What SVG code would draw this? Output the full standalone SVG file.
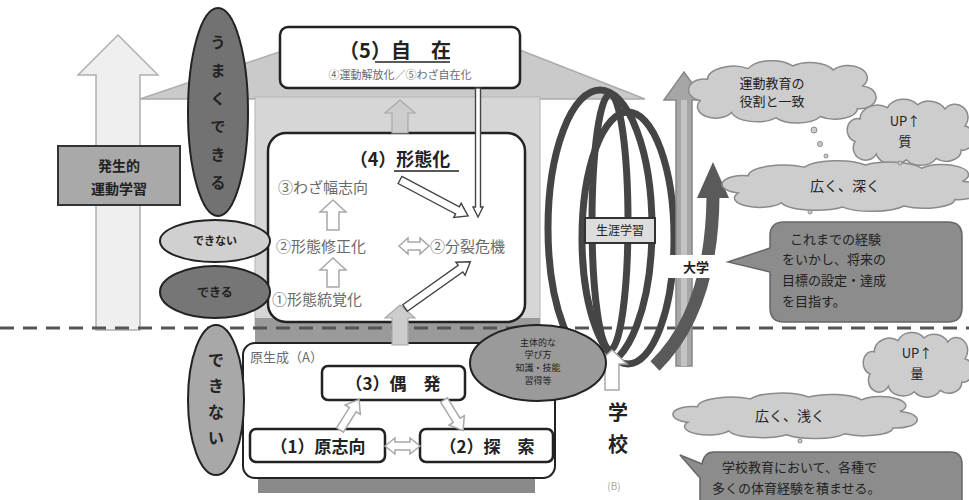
<svg xmlns="http://www.w3.org/2000/svg" xmlns:xlink="http://www.w3.org/1999/xlink" width="969" height="500" viewBox="0 0 969 500">
<style>
text{font-family:"Noto Sans CJK JP","Noto Sans",sans-serif;fill:#222}
.b{font-weight:700}
.c{text-anchor:middle}
.g{fill:#6a6a6a}
.box{fill:#fff;stroke:#222;stroke-width:2.5}
.lt{fill:#fff;stroke:#a8a8a8;stroke-width:1.5}
.lg{fill:#cdcdcd;stroke:#a8a8a8;stroke-width:1.2}
.ha{fill:#fff;stroke:#444;stroke-width:1.4}
.ring{fill:none;stroke:#454545;stroke-width:7}
.cl{fill:#cdcdcd;stroke:#8a8a8a;stroke-width:1.5}
.dk{fill:#8c8c8c;stroke:#666;stroke-width:1.5}
</style>
<defs>
<path id="cloud" class="cl" vector-effect="non-scaling-stroke" d="M 6,28 a8,8 0 0 1 4,-16 a14,10 0 0 1 22,-8 a14,10 0 0 1 24,-2 a14,10 0 0 1 22,3 a10,9 0 0 1 16,12 a8,8 0 0 1 -3,17 a12,8 0 0 1 -20,6 a14,9 0 0 1 -24,1 a14,9 0 0 1 -24,-4 a9,8 0 0 1 -17,-9 z"/>
</defs>
<rect width="969" height="500" fill="#fff"/>

<!-- background house and arrows -->
<g id="left-arrow">
<polygon points="118,35 158,75 140,75 140,330 96,330 96,75 78,75" fill="#efefef" stroke="#b0b0b0" stroke-width="1.5"/>
</g>
<g id="house">
<polygon points="140,99 285,50 520,50 645,99" fill="#cacaca" stroke="#acacac" stroke-width="1.5"/>
<rect x="255" y="97" width="285" height="232" fill="#d6d6d6" stroke="#b4b4b4" stroke-width="1"/>
<rect x="255" y="318" width="285" height="24" fill="#9a9a9a"/>
</g>

<g id="dashed-line">
<line x1="0" y1="328" x2="969" y2="328" stroke="#555" stroke-width="3" stroke-dasharray="14 9"/>
</g>

<g id="bottom-base">
<rect x="258" y="476" width="277" height="17" fill="#8a8a8a"/>
</g>

<g id="node-basic">
<rect x="58" y="146" width="122" height="59" fill="#a9a9a9" stroke="#333" stroke-width="2"/>
<text class="b c" x="119" y="171" font-size="14">発生的</text>
<text class="b c" x="119" y="194" font-size="14">運動学習</text>
</g>

<g id="node-5">
<rect class="box" x="280" y="27" width="240" height="61" rx="8"/>
<text class="b c" x="395" y="58" font-size="20">（5）自　在</text>
<line x1="375" y1="62" x2="450" y2="62" stroke="#222" stroke-width="1.5"/>
<text class="c g" x="400" y="79" font-size="11">④運動解放化／⑤わざ自在化</text>
</g>

<g id="node-4">
<rect class="box" x="268" y="133" width="257" height="189" rx="18" stroke-width="3"/>
<text class="b c" x="400" y="166" font-size="18">（4）形態化</text>
<line x1="394" y1="171" x2="459" y2="171" stroke="#222" stroke-width="1.5"/>
<text class="g" x="278" y="193" font-size="15">③わざ幅志向</text>
<text class="g" x="276" y="252" font-size="15">②形態修正化</text>
<text class="g" x="430" y="252" font-size="15">②分裂危機</text>
<text class="g" x="272" y="305" font-size="15">①形態統覚化</text>
</g>

<g id="node-A">
<rect x="243" y="343" width="312" height="135" rx="12" fill="#fff" stroke="#222" stroke-width="2"/>
<text class="g" x="250" y="362" font-size="13">原生成（A）</text>
</g>
<g id="node-3">
<rect class="box" x="322" y="366" width="143" height="34" rx="6"/>
<text class="b c" x="393" y="390" font-size="17">（3）偶　発</text>
</g>
<g id="node-1">
<rect class="box" x="250" y="429" width="135" height="33" rx="6"/>
<text class="b c" x="318" y="453" font-size="17">（1）原志向</text>
</g>
<g id="node-2">
<rect class="box" x="420" y="429" width="133" height="33" rx="6"/>
<text class="b c" x="487" y="453" font-size="17">（2）探　索</text>
</g>

<g id="rings">
<ellipse class="ring" cx="600" cy="228" rx="52" ry="138"/>
<ellipse class="ring" cx="610" cy="222" rx="18" ry="128" stroke-width="6"/>
<ellipse class="ring" cx="628" cy="238" rx="46" ry="126" stroke-width="6"/>
</g>

<g id="connectors">
<!-- gray block arrows -->
<polygon class="lg" points="400,100 415,113 408,113 408,133 392,133 392,113 385,113"/>
<polygon class="lg" points="400,305 415,318 408,318 408,345 392,345 392,318 385,318"/>
<!-- inner up arrows -->
<polygon class="lt" points="333,200 346,212 339,212 339,230 327,230 327,212 320,212"/>
<polygon class="lt" points="333,258 346,270 339,270 339,287 327,287 327,270 320,270"/>
<!-- horizontal double arrows -->
<polygon class="lt" points="399,246 408,238 408,242 420,242 420,238 429,246 420,254 420,250 408,250 408,254"/>
<polygon class="lt" points="385,446 395,438 395,442 410,442 410,438 420,446 410,454 410,450 395,450 395,454"/>
<!-- diagonal light arrows bottom -->
<polygon class="lt" transform="translate(340,430) rotate(-58)" points="0,-4 24,-4 24,-9 36,0 24,9 24,4 0,4"/>
<polygon class="lt" transform="translate(444,400) rotate(58)" points="0,-4 24,-4 24,-9 36,0 24,9 24,4 0,4"/>
<!-- hollow dark arrows in (4) -->
<polygon class="ha" transform="translate(400,180) rotate(27.9)" points="0,-4 65,-4 65,-8 77,0 65,8 65,4 0,4"/>
<polygon class="ha" transform="translate(405,308) rotate(-35.3)" points="0,-4 68,-4 68,-8 80,0 68,8 68,4 0,4"/>
<polygon class="ha" transform="translate(478,88) rotate(90)" points="0,-2.5 119,-2.5 119,-5 129,0 119,5 119,2.5 0,2.5"/>
<!-- school arrow -->
<polygon class="lt" points="612,350 627,364 619,364 619,390 605,390 605,364 597,364"/>
<!-- university straight arrow -->
<polygon points="684,72 704,100 692,100 692,366 676,366 676,100 664,100" fill="#a6a6a6" stroke="#888" stroke-width="1.5"/>
<rect x="681" y="100" width="6" height="266" fill="#c4c4c4"/>
<!-- curved dark arrow -->
<path d="M 655,366 Q 712,310 713,196" fill="none" stroke="#5a5a5a" stroke-width="13"/>
<polygon points="713,162 729,198 697,198" fill="#5a5a5a"/>
</g>

<g id="node-lifelong">
<rect x="585" y="218" width="70" height="25" fill="#ddd" stroke="#333" stroke-width="2"/>
<text class="c" x="620" y="235" font-size="12">生涯学習</text>
</g>
<g id="node-univ">
<rect x="668" y="255" width="56" height="23" fill="#fff"/>
<text class="b c" x="696" y="272" font-size="13">大学</text>
</g>

<g id="node-oval">
<ellipse cx="538" cy="363" rx="68" ry="38" fill="#9a9a9a" stroke="#222" stroke-width="2"/>
<text class="c" x="538" y="346" font-size="9">主体的な</text>
<text class="c" x="538" y="358" font-size="9">学び方</text>
<text class="c" x="538" y="371" font-size="9">知識・技能</text>
<text class="c" x="538" y="384" font-size="9">習得等</text>
</g>

<g id="node-school">
<text class="b c" x="618" y="420" font-size="20">学</text>
<text class="b c" x="618" y="452" font-size="20">校</text>
<text class="c" x="614" y="490" font-size="10" fill="#aaa" style="fill:#aaa">(B)</text>
</g>

<g id="node-umaku">
<ellipse cx="218" cy="112" rx="30" ry="104" fill="#727272" stroke="#222" stroke-width="2"/>
<text class="b c" x="218" font-size="15"><tspan x="218" y="48">う</tspan><tspan x="218" y="76">ま</tspan><tspan x="218" y="104">く</tspan><tspan x="218" y="132">で</tspan><tspan x="218" y="160">き</tspan><tspan x="218" y="188">る</tspan></text>
</g>
<g id="node-dekinai1">
<ellipse cx="215" cy="241" rx="55" ry="21" fill="#d0d0d0" stroke="#222" stroke-width="2"/>
<text class="b c" x="215" y="245" font-size="11">できない</text>
</g>
<g id="node-dekiru">
<ellipse cx="215" cy="292" rx="55" ry="26" fill="#767676" stroke="#222" stroke-width="2"/>
<text class="b c" x="215" y="297" font-size="12">できる</text>
</g>
<g id="node-dekinai2">
<ellipse cx="216" cy="400" rx="28" ry="75" fill="#a8a8a8" stroke="#222" stroke-width="2"/>
<text class="b c" font-size="16"><tspan x="216" y="366">で</tspan><tspan x="216" y="392">き</tspan><tspan x="216" y="418">な</tspan><tspan x="216" y="444">い</tspan></text>
</g>

<g id="node-cloud1">
<use xlink:href="#cloud" transform="translate(689,63.3) scale(1.85,1.33)"/>
<text class="c" x="772" y="88" font-size="13">運動教育の</text>
<text class="c" x="772" y="106" font-size="13">役割と一致</text>
</g>
<g id="node-cloud2">
<use xlink:href="#cloud" transform="translate(847.5,102) scale(1.25,1.41)"/>
<text class="c" x="905" y="126" font-size="13">UP↑</text>
<text class="c" x="905" y="146" font-size="13">質</text>
</g>
<g id="node-cloud3">
<use xlink:href="#cloud" transform="translate(722.7,162.8) scale(2.55,1.08)"/>
<text class="c" x="845" y="191" font-size="14">広く、深く</text>
</g>
<g id="bubbles">
<circle cx="814" cy="130" r="3" fill="#cdcdcd" stroke="#8a8a8a"/>
<circle cx="820" cy="144" r="2.5" fill="#cdcdcd" stroke="#8a8a8a"/>
<circle cx="826" cy="156" r="2" fill="#cdcdcd" stroke="#8a8a8a"/>
<circle cx="810" cy="212" r="2" fill="#cdcdcd" stroke="#8a8a8a"/>
<circle cx="900" cy="163" r="2" fill="#cdcdcd" stroke="#8a8a8a"/>
<circle cx="903" cy="393" r="2" fill="#cdcdcd" stroke="#8a8a8a"/>
<circle cx="800" cy="441" r="2" fill="#cdcdcd" stroke="#8a8a8a"/>
</g>
<g id="node-callout1">
<path class="dk" d="M 784,222 H 948 Q 962,222 962,236 V 308 Q 962,322 948,322 H 784 Q 770,322 770,308 V 272 L 728,262 L 770,248 V 236 Q 770,222 784,222 Z"/>
<text x="790" y="244" font-size="13">これまでの経験</text>
<text x="782" y="264" font-size="13">をいかし、将来の</text>
<text x="782" y="285" font-size="13">目標の設定・達成</text>
<text x="782" y="306" font-size="13">を目指す。</text>
</g>

<g id="node-cloud4">
<use xlink:href="#cloud" transform="translate(863.5,335.2) scale(1.08,1.38)"/>
<text class="c" x="917" y="358" font-size="13">UP↑</text>
<text class="c" x="917" y="378" font-size="13">量</text>
</g>
<g id="node-cloud5">
<use xlink:href="#cloud" transform="translate(673.5,395) scale(2.41,0.97)"/>
<text class="c" x="790" y="421" font-size="14">広く、浅く</text>
</g>
<g id="node-callout2">
<path class="dk" d="M 714,452 H 950 Q 962,452 962,464 V 506 H 700 V 478 L 680,455 L 702,464 Q 704,452 714,452 Z"/>
<text x="722" y="472" font-size="13">学校教育において、各種で</text>
<text x="712" y="493" font-size="13">多くの体育経験を積ませる。</text>
</g>
</svg>
